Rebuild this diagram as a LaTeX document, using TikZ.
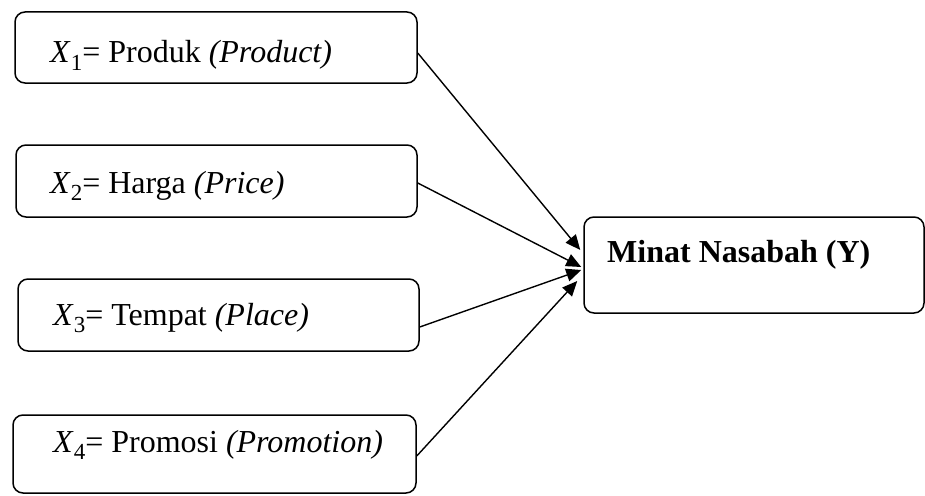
\documentclass[tikz,border=0pt]{standalone}
\usepackage{fontspec}
\setmainfont{Liberation Serif}
\usetikzlibrary{arrows.meta}
\newcommand{\xsub}[1]{\textit{X}\raisebox{-0.22em}{\fontsize{23}{23}\selectfont #1}}
\tikzset{
  box/.style={draw, line width=1.5pt, rounded corners=10pt, inner sep=0pt},
  lbl/.style={anchor=base west, inner sep=0pt, font=\fontsize{32}{36}\selectfont},
  arr/.style={line width=1.4pt, -{Triangle[length=15pt,width=13pt]}}
}
\begin{document}
\begin{tikzpicture}[x=1pt,y=-1pt]
\useasboundingbox (0,0) rectangle (925,495);
\node[box, minimum width=402pt, minimum height=71pt] (b1) at (216,47.5) {};
\node[box, minimum width=401pt, minimum height=72pt] (b2) at (216.5,181) {};
\node[box, minimum width=401pt, minimum height=72pt] (b3) at (218.5,315) {};
\node[box, minimum width=403pt, minimum height=78pt] (b4) at (214.5,454) {};
\node[box, minimum width=340pt, minimum height=96pt] (y) at (754,265) {};
\node[lbl] (t1) at (50,63) {\xsub{1}= Produk \textit{(Product)}};
\node[lbl] (t2) at (50,193) {\xsub{2}= Harga \textit{(Price)}};
\node[lbl] (t3) at (53,325) {\xsub{3}= Tempat \textit{(Place)}};
\node[lbl] (t4) at (53,452) {\xsub{4}= Promosi \textit{(Promotion)}};
\node[lbl] (ty) at (607,262) {\textbf{Minat Nasabah (Y)}};
\draw[arr] ([yshift=-5.5pt]b1.east) -- ([xshift=-3pt,yshift=15pt]y.west);
\draw[arr] ([yshift=-2pt]b2.east) -- ([xshift=-2pt,yshift=-2pt]y.west);
\draw[arr] ([yshift=-12pt]b3.east) -- ([xshift=-2pt,yshift=-5pt]y.west);
\draw[arr] ([yshift=-2pt]b4.east) -- ([xshift=-6pt,yshift=-16pt]y.west);
\end{tikzpicture}
\end{document}
